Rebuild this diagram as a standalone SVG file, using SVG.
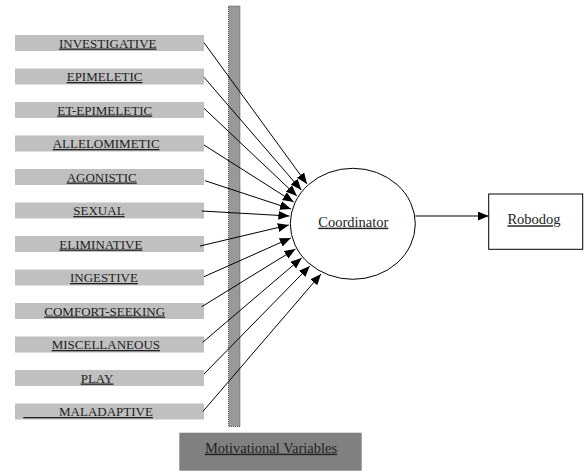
<svg xmlns="http://www.w3.org/2000/svg" width="584" height="472" viewBox="0 0 584 472">
<defs>
<style>
.bar{fill:#c0c0c0}
.lbl{font-family:"Liberation Serif","Times New Roman",serif;font-size:13px;fill:#222;text-decoration:underline}
.big{font-family:"Liberation Serif","Times New Roman",serif;font-size:14.5px;fill:#222;text-decoration:underline}
.conn{stroke:#000;stroke-width:1;fill:none;marker-end:url(#ah)}
</style>
<marker id="ah" markerUnits="userSpaceOnUse" markerWidth="12" markerHeight="10" refX="11" refY="4.5" orient="auto">
<path d="M0,0 L11,4.5 L0,9 z" fill="#000"/>
</marker>
</defs>
<rect width="584" height="472" fill="#fff"/>
<g id="motivational-bar">
<rect x="228.5" y="6" width="11.5" height="420.5" fill="#999" stroke="#555" stroke-width="1" stroke-dasharray="1,1"/>
</g>
<g id="investigative"><rect class="bar" x="15" y="35" width="189" height="16"/><text class="lbl" x="59" y="47.5">INVESTIGATIVE</text></g>
<g id="epimeletic"><rect class="bar" x="15" y="68.5" width="189" height="16"/><text class="lbl" x="66.7" y="81">EPIMELETIC</text></g>
<g id="et-epimeletic"><rect class="bar" x="15" y="102" width="189" height="16"/><text class="lbl" x="57.3" y="114.5">ET-EPIMELETIC</text></g>
<g id="allelomimetic"><rect class="bar" x="15" y="135.5" width="189" height="16"/><text class="lbl" x="52.7" y="148">ALLELOMIMETIC</text></g>
<g id="agonistic"><rect class="bar" x="15" y="169" width="189" height="16"/><text class="lbl" x="66.7" y="181.5">AGONISTIC</text></g>
<g id="sexual"><rect class="bar" x="15" y="202.5" width="189" height="16"/><text class="lbl" x="73.3" y="215">SEXUAL</text></g>
<g id="eliminative"><rect class="bar" x="15" y="236" width="189" height="16"/><text class="lbl" x="59.3" y="248.5">ELIMINATIVE</text></g>
<g id="ingestive"><rect class="bar" x="15" y="269.5" width="189" height="16"/><text class="lbl" x="70" y="282">INGESTIVE</text></g>
<g id="comfort-seeking"><rect class="bar" x="15" y="303" width="189" height="16"/><text class="lbl" x="44.3" y="315.5">COMFORT-SEEKING</text></g>
<g id="miscellaneous"><rect class="bar" x="15" y="336.5" width="189" height="16"/><text class="lbl" x="51.7" y="349">MISCELLANEOUS</text></g>
<g id="play"><rect class="bar" x="15" y="370" width="189" height="16"/><text class="lbl" x="80.7" y="382.5">PLAY</text></g>
<g id="maladaptive"><rect class="bar" x="15" y="403.5" width="189" height="16"/><text class="lbl" x="23.3" y="416" xml:space="preserve">&#160;&#160;&#160;&#160;&#160;&#160;&#160;&#160;&#160;&#160;&#160;MALADAPTIVE</text></g>
<g id="motivational-variables">
<rect x="179.3" y="432.7" width="182.4" height="38" fill="#808080"/>
<text class="big" x="271" y="452.7" text-anchor="middle">Motivational Variables</text>
</g>
<g id="coordinator">
<ellipse cx="352.8" cy="223.8" rx="62.5" ry="55.5" fill="#fff" stroke="#000" stroke-width="1"/>
<text class="big" x="353.3" y="226.7" text-anchor="middle">Coordinator</text>
</g>
<g id="robodog">
<rect x="488.7" y="194" width="94" height="55.3" fill="#fff" stroke="#000" stroke-width="1"/>
<text class="big" x="534" y="224.3" text-anchor="middle">Robodog</text>
</g>
<g id="connectors">
<line class="conn" x1="204" y1="42.7" x2="307" y2="184"/>
<line class="conn" x1="204" y1="77.3" x2="301.3" y2="190"/>
<line class="conn" x1="204" y1="108.3" x2="296.9" y2="196"/>
<line class="conn" x1="204" y1="145" x2="293.7" y2="202"/>
<line class="conn" x1="205" y1="180.7" x2="291" y2="209"/>
<line class="conn" x1="201.7" y1="211" x2="289.4" y2="216"/>
<line class="conn" x1="200" y1="246" x2="288.8" y2="225"/>
<line class="conn" x1="204" y1="276.7" x2="290.8" y2="238"/>
<line class="conn" x1="201.7" y1="306.7" x2="295.4" y2="249"/>
<line class="conn" x1="202.7" y1="342.3" x2="301.6" y2="258"/>
<line class="conn" x1="204" y1="374" x2="309.8" y2="266"/>
<line class="conn" x1="202.7" y1="411.7" x2="321" y2="274"/>
<line class="conn" x1="415.3" y1="216" x2="488.7" y2="216"/>
</g>
</svg>
